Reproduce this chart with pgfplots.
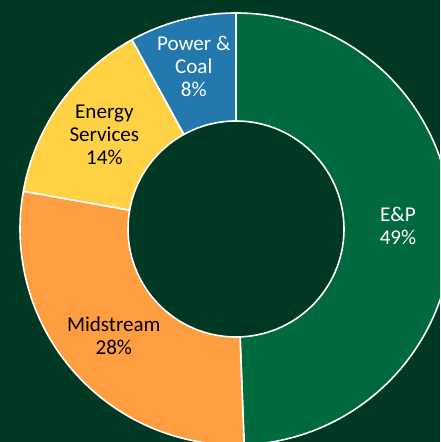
\documentclass[border=0pt]{standalone}
\usepackage{pgfplots}
\pgfplotsset{compat=1.18}
\usepackage{pgfplotstable}
\usepackage{fontspec}
\setmainfont{Carlito}
\definecolor{bg}{RGB}{0,56,35}
\definecolor{cEP}{RGB}{0,105,62}
\definecolor{cMid}{RGB}{255,158,64}
\definecolor{cEn}{RGB}{255,209,69}
\definecolor{cPow}{RGB}{35,120,174}

\pgfplotstableread{
value
49.4
28.4
14.2
8.0
}\shares

% cumulative angles, clockwise from the top
\def\cum{90}
\foreach \i in {0,...,3}{%
  \pgfplotstablegetelem{\i}{value}\of\shares
  \pgfmathsetmacro\a{\cum}%
  \pgfmathsetmacro\b{\cum-3.6*\pgfplotsretval}%
  \pgfmathsetmacro\m{(\a+\b)/2}%
  \expandafter\xdef\csname sa\romannumeral\numexpr\i+1\relax\endcsname{\a}%
  \expandafter\xdef\csname ea\romannumeral\numexpr\i+1\relax\endcsname{\b}%
  \expandafter\xdef\csname ma\romannumeral\numexpr\i+1\relax\endcsname{\m}%
  \xdef\cum{\b}%
}

\newcommand\donutwedge[3]{%
  \filldraw[fill=#3, draw=white, line width=1.2pt, line join=round]
    ([shift={(#1:162pt)}]C) arc[start angle=#1, end angle=#2, radius=162pt]
    -- ([shift={(#2:81pt)}]C) arc[start angle=#2, end angle=#1, radius=81pt]
    -- cycle;}

\begin{document}
\begin{tikzpicture}
\path[use as bounding box] (0,0) rectangle (330pt,331.5pt);
\begin{axis}[
  at={(0,0)}, anchor=south west,
  x=0.75pt, y=0.75pt,
  xmin=0, xmax=440, ymin=0, ymax=442,
  hide axis, clip=true,
]
\fill[bg] (axis cs:0,0) rectangle (axis cs:440,442);
\coordinate (C) at (axis cs:236,213);
\donutwedge{\sai}{\eai}{cEP}
\donutwedge{\saii}{\eaii}{cMid}
\donutwedge{\saiii}{\eaiii}{cEn}
\donutwedge{\saiv}{\eaiv}{cPow}
\tikzset{lbl/.style={align=center, font=\fontsize{15.8}{17.3}\selectfont, inner sep=0pt}}
\node[lbl, text=white] at ([shift={(\mai:121.5pt)}]C) {E\&P\\49\%};
\node[lbl, text=black] at ([shift={(\maii:121.5pt)}]C) {Midstream\\28\%};
\node[lbl, text=black] at ([shift={(\maiii:121.5pt)}]C) {Energy\\Services\\14\%};
\node[lbl, text=white, xshift=-1.5pt, yshift=4.5pt] at ([shift={(\maiv:121.5pt)}]C) {Power \&\\Coal\\8\%};
\end{axis}
\end{tikzpicture}
\end{document}
